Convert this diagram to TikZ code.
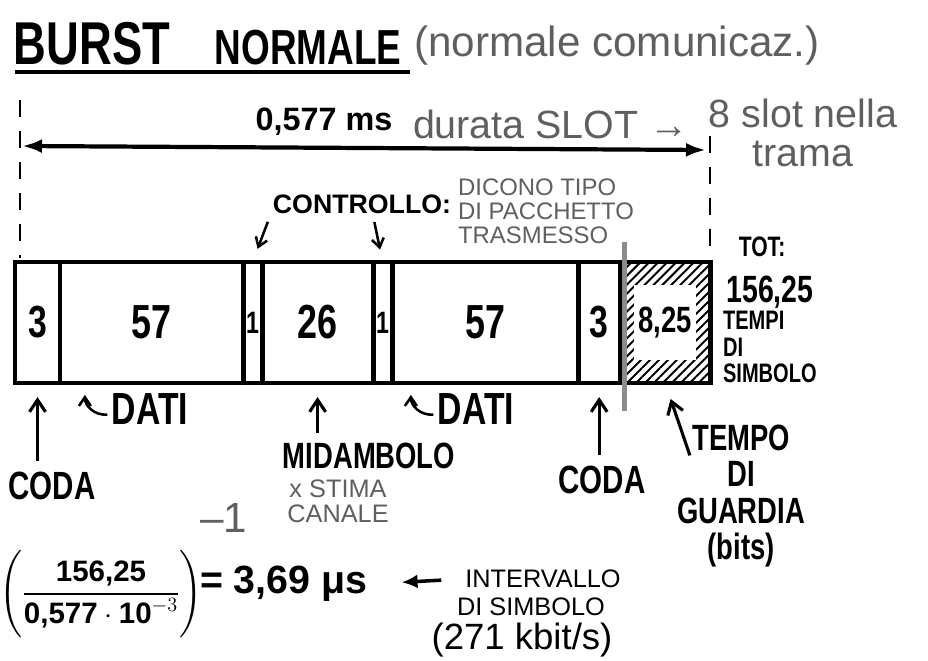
\documentclass[tikz,border=0pt]{standalone}
\usepackage{amsmath}
\usepackage{fontspec}
\setmainfont{Liberation Sans}
\newfontfamily\marker{Liberation Sans}[FakeStretch=0.75]
\usetikzlibrary{arrows.meta,positioning,patterns.meta}
\definecolor{pencol}{RGB}{95,95,95}
\newcommand{\fsz}[1]{\fontsize{#1}{#1}\selectfont}

\begin{document}
\begin{tikzpicture}[x=0.025cm, y=0.025cm, every node/.style={align=center, inner sep=2pt},
  mk/.style={font=\marker\bfseries\fsz{#1}},
  bd/.style={font=\bfseries\fsz{#1}},
  pentext/.style={text=pencol, font=\fsz{#1}},
  field/.style={draw, line width=3.5pt, outer sep=0pt, inner sep=0pt, minimum height=3.025cm},
  dimarr/.style={{Latex[length=5mm,width=3.5mm]}-{Latex[length=5mm,width=3.5mm]}, line width=3pt},
  uparr/.style={-{Straight Barb[length=3mm,width=4mm]}, line width=2.2pt},
  ptr/.style={-{Straight Barb[length=2.2mm,width=3mm]}, line width=1.8pt},
  guide/.style={line width=2pt, dash pattern=on 12pt off 10pt}]
\useasboundingbox (0,0) rectangle (928,-661);

% titolo
\node[mk=43] (burst) at (92,-44) {BURST};
\node[mk=35] (normale) at (308,-48) {NORMALE};
\node[pentext=30] (comm) at (617,-46) {(normale comunicaz.)};
\draw[line width=3pt] (15,-72) -- (410,-72);

% durata slot
\coordinate (dl) at (22,-146);
\coordinate (dr) at (706,-150);
\draw[guide] (20,-100) -- (20,-258);
\draw[guide] (710,-136) -- (710,-258);
\draw[dimarr] (dl) -- (dr);
\node[bd=23] (tslot) at (324,-122) {0,577 ms};
\node[pentext=28, anchor=west] (durata) at (410,-124) {durata SLOT →};
\node[pentext=28] (trama) at (803,-133) {8 slot nella\\trama};

% bit di controllo
\node[bd=19] (ctrl) at (362,-204) {CONTROLLO:};
\node[pentext=17, align=left, anchor=north west] (tipo) at (455,-176) {DICONO TIPO\\DI PACCHETTO\\TRASMESSO};

% burst
\node[field, mk=32, minimum width=1.125cm] (ta) at (37.5,-322.5) {3};
\node[field, mk=34, minimum width=4.575cm, right=0pt of ta] (da) {57};
\node[field, mk=22, minimum width=0.475cm, right=0pt of da] (ca) {1};
\node[field, mk=34, minimum width=2.775cm, right=0pt of ca] (mid) {26};
\node[field, mk=22, minimum width=0.475cm, right=0pt of mid] (cb) {1};
\node[field, mk=34, minimum width=4.65cm, right=0pt of cb] (db) {57};
\node[field, mk=32, minimum width=1.05cm, right=0pt of db] (tb) {3};
\node[field, minimum width=2.25cm, right=0pt of tb, pattern={Lines[angle=45,distance=4.5pt,line width=1.4pt]}] (gp) {};
\node[fill=white, inner sep=0pt, minimum width=1.55cm, minimum height=1.85cm] (gpin) at (gp) {};
\node[mk=26] (gplab) at (gp) {8,25};
\draw[line width=4pt, black!45] ([xshift=3pt,yshift=14pt]gp.north west) -- ([xshift=3pt,yshift=-20pt]gp.south west);

\draw[ptr, shorten <=4pt, shorten >=10pt] (ctrl.south west) -- (ca.north);
\draw[ptr, shorten <=4pt, shorten >=9pt] ([xshift=8pt]ctrl.south) -- (cb.north);

% totale
\node[mk=20] (tot) at (762,-247) {TOT:};
\node[mk=27] (somma) at (770,-292) {156,25};
\node[mk=19, align=left, anchor=north west] (tempi) at (720,-308) {TEMPI\\DI\\SIMBOLO};

% etichette sotto
\node[mk=28] (coda1) at (52,-486) {CODA};
\draw[uparr, shorten <=6pt, shorten >=10pt] (coda1.north -| ta.south) -- (ta.south);
\node[mk=32] (dati1) at (150,-409) {DATI};
\draw[ptr] ([xshift=-1pt,yshift=-4pt]dati1.west) .. controls +(-14,-1) and +(0,-10) .. ([xshift=-17pt,yshift=10pt]dati1.west);
\node[mk=26] (midlab) at (369,-456) {MIDAMBOLO};
\draw[uparr, shorten <=5pt, shorten >=10pt] (midlab.north -| mid.south) -- (mid.south);
\node[pentext=18] (stima) at (338,-501) {x STIMA\\CANALE};
\node[mk=32] (dati2) at (476,-409) {DATI};
\draw[ptr] ([xshift=-1pt,yshift=-4pt]dati2.west) .. controls +(-14,-1) and +(0,-10) .. ([xshift=-17pt,yshift=10pt]dati2.west);
\node[mk=28] (coda2) at (602,-480) {CODA};
\draw[uparr, shorten <=6pt, shorten >=10pt] (coda2.north -| tb.south) -- (tb.south);
\node[mk=26] (tempo) at (741,-496) {TEMPO\\DI\\GUARDIA\\(bits)};
\draw[uparr, shorten <=2pt, shorten >=12pt] ([xshift=12pt,yshift=-26pt]tempo.north west) -- (gp.south);

% intervallo di simbolo
\node[bd=21, inner sep=0pt] (frac) at (101,-594) {$\Biggl(\dfrac{\text{156,25}}{\text{0,577}\cdot\text{10}^{-3}}\Biggr)$};
\node[pentext=30] (inv) at (224,-518) {–1};
\node[bd=28, anchor=west] (res) at (197,-584) {= 3,69 μs};
\node[font=\fsz{18}] (ivl) at (543,-579) {INTERVALLO};
\node[font=\fsz{18}] (simb) at (531,-607) {DI SIMBOLO};
\node[font=\fsz{26}] (rate) at (522,-640) {(271 kbit/s)};
\draw[-{Latex[length=4mm,width=3.5mm]}, line width=2.5pt, shorten <=15pt, shorten >=22pt] (ivl.west) -- (res.east);
\end{tikzpicture}
\end{document}
